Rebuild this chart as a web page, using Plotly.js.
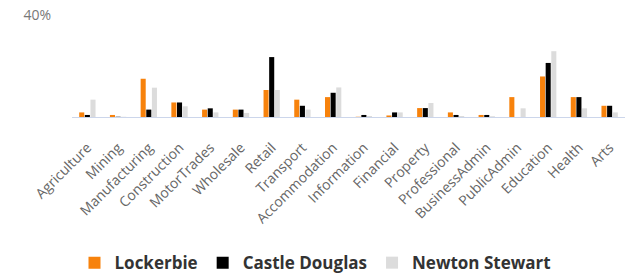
<!DOCTYPE html>
<html>
<head>
<meta charset="utf-8">
<script src="https://cdn.plot.ly/plotly-3.0.1.min.js"></script>
<style>html,body{margin:0;padding:0;background:#fff;}#chart{width:631px;height:279px;}</style>
</head>
<body>
<div id="chart"></div>
<script>
var categories = ["Agriculture","Mining","Manufacturing","Construction","MotorTrades","Wholesale","Retail","Transport","Accommodation","Information","Financial","Property","Professional","BusinessAdmin","PublicAdmin","Education","Health","Arts"];
var lockerbie = [1.8, 0.8, 15.0, 5.7, 2.9, 2.9, 10.6, 6.8, 7.8, 0.1, 0.6, 3.5, 1.8, 0.8, 7.8, 15.9, 7.8, 4.4];
var castleDouglas = [0.8, 0.1, 2.9, 5.7, 3.4, 2.9, 23.5, 4.4, 9.5, 0.8, 1.8, 3.5, 0.8, 0.8, 0.0, 21.2, 7.8, 4.4];
var newtonStewart = [6.8, 0.1, 11.5, 4.2, 1.8, 1.6, 10.6, 2.9, 11.6, 0.4, 1.8, 5.5, 0.4, 0.3, 3.4, 25.8, 3.4, 1.8];
var yTicks = [40];
var yTickText = ["40%"];

var traces = [
  {name: "Lockerbie", y: lockerbie, color: "#f7820c"},
  {name: "Castle Douglas", y: castleDouglas, color: "#000000"},
  {name: "Newton Stewart", y: newtonStewart, color: "#dcdcdc"}
].map(function(s){
  return {type: "bar", x: categories, y: s.y, name: s.name,
          marker: {color: s.color, line: {width: 0}}, hoverinfo: "skip"};
});

var layout = {
  width: 631, height: 279,
  margin: {l: 72, r: 6, t: 15, b: 162},
  paper_bgcolor: "#fff", plot_bgcolor: "#fff",
  barmode: "group", bargap: 0.45, bargroupgap: 0.1,
  font: {family: "Open Sans, sans-serif", color: "#666"},
  xaxis: {
    tickangle: -45, showline: true, linecolor: "#ccd6eb", linewidth: 1,
    ticks: "", showgrid: false, zeroline: false,
    ticklabelstandoff: 16,
    tickfont: {size: 14, color: "#666"}
  },
  yaxis: {
    range: [0, 40], tickvals: yTicks, ticktext: yTickText,
    showgrid: false, zeroline: false, showline: false, ticks: "",
    ticklabelstandoff: 20,
    tickfont: {size: 14, color: "#777"}
  },
  showlegend: true,
  legend: {
    orientation: "h", xref: "container", x: 0.5, xanchor: "center",
    yref: "container", y: 0.057, yanchor: "middle",
    itemgap: 40,
    font: {size: 17, color: "#333", weight: "bold"},
    itemclick: false
  }
};

Plotly.newPlot("chart", traces, layout, {staticPlot: true, displayModeBar: false});
</script>
</body>
</html>
